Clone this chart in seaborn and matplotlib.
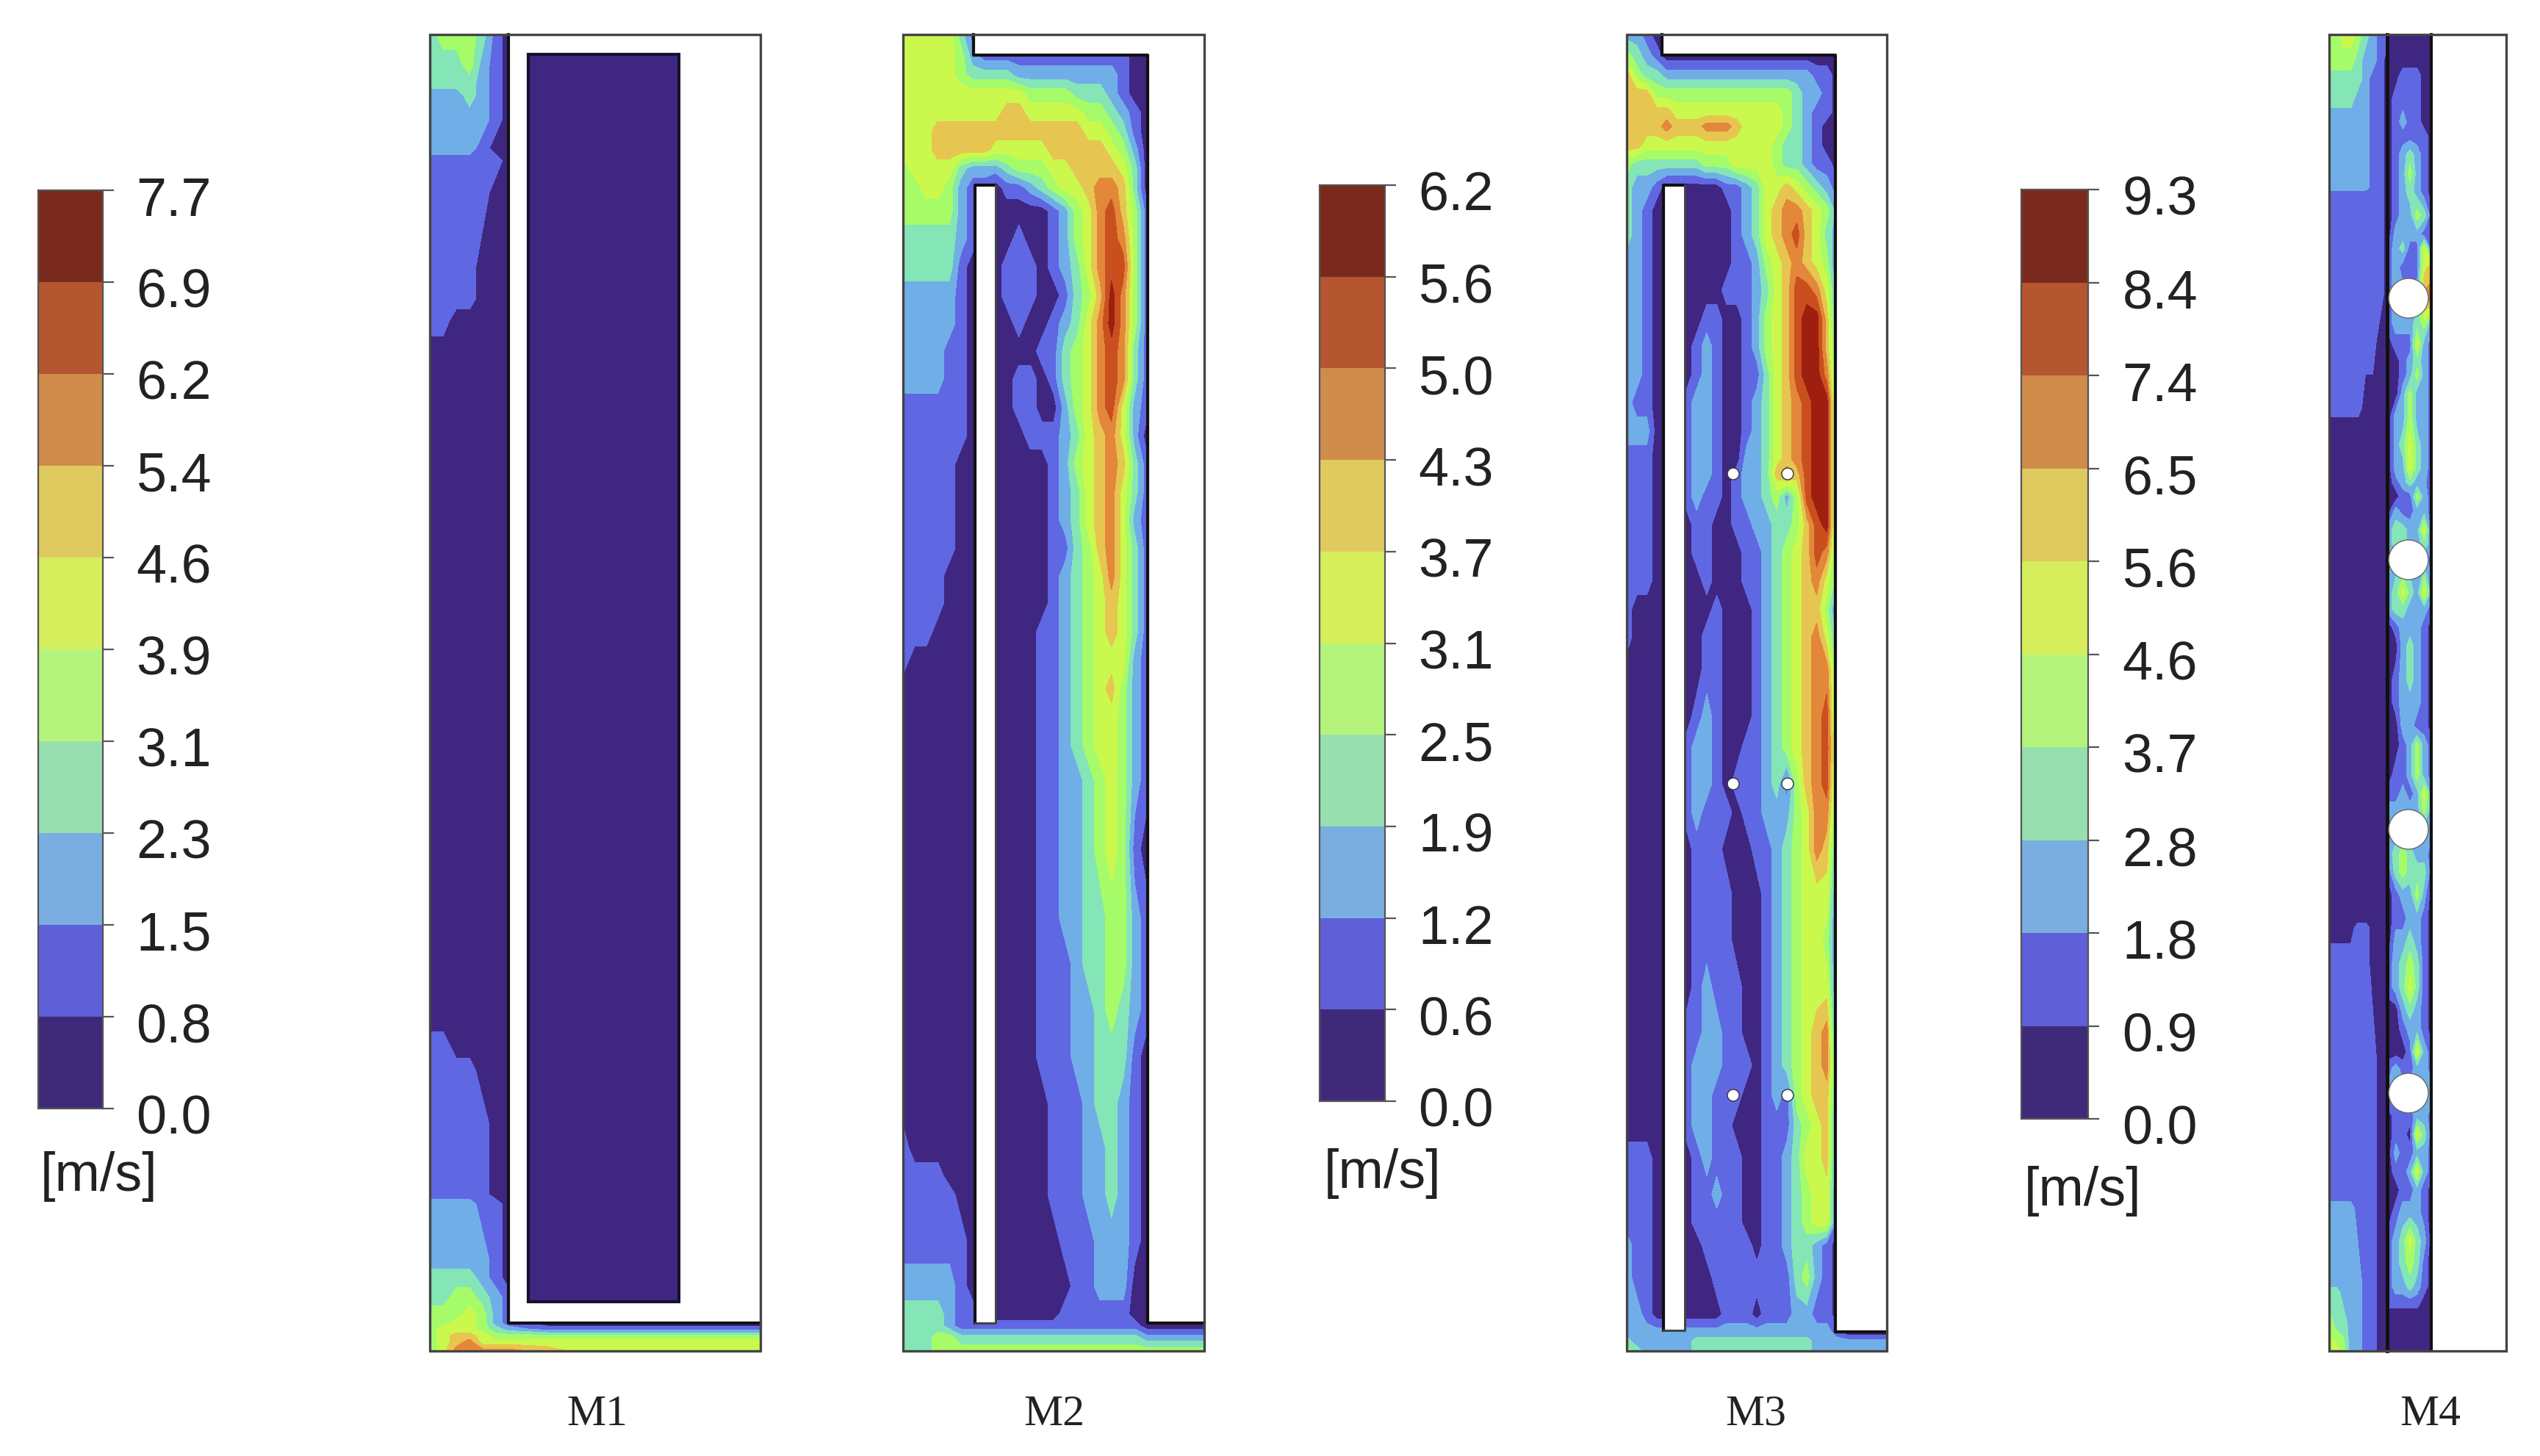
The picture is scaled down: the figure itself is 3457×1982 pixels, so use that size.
import numpy as np
import matplotlib
matplotlib.use("Agg")
import matplotlib.pyplot as plt
from matplotlib.colors import ListedColormap, BoundaryNorm
from matplotlib.patches import Rectangle, Circle
from matplotlib.transforms import ScaledTranslation
import seaborn as sns

# ---- colour bars ----
speeds_m1 = [7.7, 6.9, 6.2, 5.4, 4.6, 3.9, 3.1, 2.3, 1.5, 0.8, 0.0]
speeds_m2 = [6.2, 5.6, 5.0, 4.3, 3.7, 3.1, 2.5, 1.9, 1.2, 0.6, 0.0]
speeds_m4 = [9.3, 8.4, 7.4, 6.5, 5.6, 4.6, 3.7, 2.8, 1.8, 0.9, 0.0]
panel_names = ["M1", "M2", "M3", "M4"]

field_colors = ["#3f2680", "#6067e2", "#70aee8", "#84e5b6", "#a6fb68",
                "#cbf84d", "#e6c650", "#e3873a", "#c9501e", "#9e1f10"]
bar_colors = ["#3f2a7a", "#5f60d8", "#7aaee0", "#98dfb0", "#b4f47c",
              "#d6ee5c", "#dfca60", "#d08c4a", "#b4562f", "#7a2a1c"]

# ---- velocity fields: one digit per sample = colour band ----
m1_heights = [48, 90, 113, 130, 163, 203, 220, 263, 363, 407, 437, 480, 1387, 1423, 1460,
              1533, 1627, 1640, 1717, 1740, 1767, 1790, 1802, 1810, 1820, 1828, 1840]
m1_stations = [585, 603, 621, 639, 657, 675, 692, 745, 805, 865, 925, 985, 1035]
m1_bands = ["3444310", "3334210", "3333210", "2223210", "2222210", "2222100", "1111110",
            "1111100", "1111000", "1111000", "1100000", "0000000", "0000000", "1100000",
            "1111000", "1111100", "1111100", "2222110", "2222210", "3333210", "3344321",
            "4445421", "4455421000000", "4555432111111", "4566544444444", "4567555555555",
            "4577777655555"]

m2_heights = [48, 77, 103, 128, 154, 179, 205, 230, 256, 288, 326, 364, 403, 441, 479, 517, 556,
              594, 632, 670, 709, 747, 785, 823, 862, 900, 938, 977, 1015, 1063, 1157, 1251,
              1313, 1376, 1439, 1502, 1564, 1602, 1627, 1690, 1752, 1790, 1806, 1822, 1840]
m2_bands = ["5555531", "555554211111111111110", "555554333322222222210", "555555555554444333210",
            "555555555665555544321", "555666666666666655431", "555666665555566666542",
            "4555532223444556666530", "4455421101123455677630", "4444421000000124578641",
            "3333321000100124578741", "3333310001110123578841", "2222210001110013469741",
            "2222210000100123579741", "2222110000001134578731", "2222110000110134578731",
            "1111110000110024578521", "1111110000011123567520", "1111100000000124567631",
            "1111100000000123567531", "1111100000000123567521", "1111100000000113467531",
            "1111000000000123457531", "1111000000000123456531", "1110000000001123456531",
            "1000000000001123455521", "0000000000001123456421", "0000000000001123455421",
            "0000000000001123455421", "0000000000001122345421", "0000000000001122345410",
            "0000000000001122334421", "0000000000001112334421", "0000000000001112234321",
            "0000000000001112233310", "0000000000000111233210", "1000000000000111223210",
            "1111000000000111223210", "1111100000000111223210", "1111110000000011122210",
            "2222210000000001122200", "3333211000000011111100", "333321111111111111111000000",
            "333443333333333333333222222", "333444444444444444444444444"]

m3_heights = [48, 77, 103, 128, 154, 173, 199, 224, 256, 288, 320, 358, 396, 435, 473, 511, 549,
              588, 626, 646, 677, 715, 753, 792, 830, 868, 913, 977, 1019, 1068, 1107, 1157, 1219,
              1282, 1345, 1407, 1451, 1492, 1533, 1577, 1627, 1665, 1696, 1740, 1790, 1815, 1827, 1840]
m3_bands = ["2210", "43210", "6433222222222222222110", "6664444444444444432210",
            "6666655555555555432110", "6666766677765555432100", "6655555555555554332100",
            "4333333344455554332110", "3221000000112355654321", "3210000000012356776542",
            "3210000000012356786532", "2210000000011245676541", "2210000000111235688752",
            "2210000011001245689962", "2210000121001245689963", "2210000121001135689973",
            "2110001221001235678993", "2220001221001235678993", "1110001221002235678993",
            "1110001221012236768993", "1110001211012234248993", "1110000110011223346893",
            "1110000110001123456873", "1110000010001123456753", "1000000001000123456641",
            "1000000011000123456752", "0000000011000123456773", "0000000121000123456783",
            "0000001221001123456784", "0000001221011123146783", "0000001211101122245773",
            "0000000111000112345762", "0000000111100012345551", "0000000111100012345541",
            "0000000121110012345551", "0000001122110012345671", "0000001222111012345672",
            "0000001221110012145662", "0000001221100011134561", "1110000121110011235561",
            "1110000112110011234551", "1110000111110011234551", "2110000011111011233210",
            "2110000001111111134210", "2210000000111011122110", "222222222222222222222100000",
            "322222233333333333322222222", "432222233333333333322222222"]

m4_outer_heights = [48, 84, 109, 135, 160, 256, 265, 403, 466, 556, 581, 1251, 1263, 1307, 1439,
                    1627, 1646, 1746, 1760, 1802, 1840]
m4_outer_bands = ["445543211", "444432210", "333332110", "333322110", "222222110", "222222110",
                  "111111110", "111111110", "111111100", "111110000", "000000000", "000000000",
                  "000011000", "111111000", "111111100", "111111100", "222211100", "222221100",
                  "332221100", "433221100", "554221100"]
m4_inner_heights = [48, 84, 103, 135, 167, 186, 211, 237, 262, 294, 320, 339, 364, 407, 441, 470, 492,
                    511, 537, 568, 607, 639, 658, 677, 696, 722, 741, 763, 808, 830, 855, 881, 926,
                    957, 989, 1015, 1056, 1082, 1103, 1131, 1163, 1188, 1219, 1251, 1282, 1313, 1345,
                    1376, 1401, 1433, 1455, 1489, 1520, 1545, 1570, 1596, 1621, 1652, 1690, 1721,
                    1752, 1774, 1790, 1840]
m4_inner_bands = ["0000000", "0000000", "0011100", "0111100", "0121100", "0111110", "0123210",
                  "0124210", "0123210", "0122431", "0222211", "1231151", "1211156", "1222277",
                  "1222342", "0111521", "0012321", "0012421", "0024221", "0224221", "0235321",
                  "0225321", "0123220", "0011421", "0211221", "2332251", "2332232", "2222221",
                  "2353252", "2332221", "0122210", "0023210", "0123210", "0122210", "0022110",
                  "0012421", "0112421", "1121252", "2222242", "2222222", "2343221", "1343331",
                  "0122420", "0112210", "0223210", "1234310", "1235310", "0023210", "0012210",
                  "0001521", "1211221", "2222222", "0111221", "0110531", "0211221", "0112521",
                  "0011210", "0122210", "1235320", "1234310", "1223210", "1111100", "0000000",
                  "0000000"]

# pipes
m3_pipe_x = [2359, 2433]
m3_pipe_y = [646, 1068, 1492]
m4_pipe_x = [3278]
m4_pipe_y = [407, 763, 1130, 1489]


def band_grid(rows, ncols):
    # digit d sits in the middle of colour band d
    return np.array([[int(c) + 0.5 for c in r.ljust(ncols, "0")[:ncols]] for r in rows])


def draw_field(ax, stations, heights, rows):
    grid = band_grid(rows, len(stations))
    ax.contourf(stations, heights, grid, levels=np.arange(11), colors=field_colors, zorder=1)


def white(ax, x0, y0, x1, y1):
    ax.add_patch(Rectangle((x0, y0), x1 - x0, y1 - y0, fc="white", ec="none", zorder=2))


def wall(ax, xs, ys, color="#111111", lw=3.0):
    ax.plot(xs, ys, color=color, lw=lw, solid_capstyle="projecting", zorder=3)


def frame(ax, x0, x1):
    ax.add_patch(Rectangle((x0, 48), x1 - x0, 1792, fc="none", ec="#444444", lw=2.4, zorder=4))


def color_bar(fig, speeds, left, right, top, bottom, label_x, unit_x, unit_y):
    W, H = 3457.0, 1983.0
    cax = fig.add_axes([left / W, 1 - bottom / H, (right - left) / W, (bottom - top) / H])
    s = np.array(speeds)
    mids = ((s[:-1] + s[1:]) / 2).reshape(-1, 1)
    sns.heatmap(mids, ax=cax, cmap=ListedColormap(bar_colors), norm=BoundaryNorm(s[::-1], 10),
                cbar=False, xticklabels=False, yticklabels=False)
    cax.set_xlabel("")
    cax.set_yticks(np.arange(len(s)))
    cax.set_yticklabels(["%.1f" % v for v in speeds])
    cax.yaxis.tick_right()
    cax.tick_params(axis="y", length=11, width=1.6, color="#555555", pad=(label_x - right - 15) * 0.72,
                    labelsize=53, labelcolor="#222222", labelrotation=0)
    off = ScaledTranslation(0, -7 / 100.0, fig.dpi_scale_trans)
    for lab in cax.get_yticklabels():
        lab.set_transform(lab.get_transform() + off)
    for sp in cax.spines.values():
        sp.set_visible(True)
        sp.set_color("#555555")
        sp.set_linewidth(1.6)
    fig.text(unit_x / W, 1 - unit_y / H, "[m/s]", fontsize=53, color="#222222", ha="left", va="center")


sns.set_theme(style="white")
plt.rcParams["font.family"] = ["Liberation Sans", "DejaVu Sans"]

fig = plt.figure(figsize=(34.57, 19.83), dpi=100, facecolor="white")
ax = fig.add_axes([0, 0, 1, 1])
ax.set_xlim(0, 3457)
ax.set_ylim(1983, 0)
ax.axis("off")

# M1
draw_field(ax, m1_stations, m1_heights, m1_bands)
white(ax, 692, 48, 1035, 1802)
ax.add_patch(Rectangle((719, 75), 205, 1698, fc=field_colors[0], ec="#15102e", lw=3, zorder=3))
wall(ax, [692, 692, 1035], [48, 1802, 1802])
frame(ax, 585, 1035)

# M2
draw_field(ax, np.linspace(1229, 1639, 27), m2_heights, m2_bands)
white(ax, 1325, 48, 1639, 76)
white(ax, 1562, 48, 1639, 1802)
white(ax, 1327, 253, 1355, 1802)
wall(ax, [1325, 1325, 1562, 1562, 1639], [48, 76, 76, 1802, 1802])
wall(ax, [1327, 1327, 1355], [1802, 253, 253])
wall(ax, [1327, 1355, 1355], [1802, 1802, 253], color="#444444", lw=2.2)
frame(ax, 1229, 1639)

# M3
draw_field(ax, np.linspace(2214, 2568, 27), m3_heights, m3_bands)
white(ax, 2262, 48, 2568, 76)
white(ax, 2498, 48, 2568, 1814)
white(ax, 2265, 253, 2293, 1812)
wall(ax, [2262, 2262, 2498, 2498, 2568], [48, 76, 76, 1814, 1814])
wall(ax, [2264, 2264, 2293], [1812, 253, 253])
wall(ax, [2264, 2293, 2293], [1812, 1812, 253], color="#444444", lw=2.2)
frame(ax, 2214, 2568)
for px in m3_pipe_x:
    for py in m3_pipe_y:
        ax.add_patch(Circle((px, py), 8, fc="white", ec="#333333", lw=1.0, zorder=4))

# M4
draw_field(ax, np.linspace(3170, 3249, 9), m4_outer_heights, m4_outer_bands)
draw_field(ax, np.linspace(3251, 3309, 7), m4_inner_heights, m4_inner_bands)
white(ax, 3310, 48, 3411, 1840)
wall(ax, [3249, 3249], [48, 1840], lw=3.6)
wall(ax, [3309, 3309], [48, 1840])
frame(ax, 3170, 3411)
for py in m4_pipe_y:
    ax.add_patch(Circle((m4_pipe_x[0], py), 27, fc="white", ec="#666666", lw=1.0, zorder=4))

# panel names
for name, cx in zip(panel_names, [813, 1435, 2390, 3308]):
    ax.text(cx, 1926, name, fontsize=43, family="Liberation Serif", color="#222222", ha="center", va="center")

color_bar(fig, speeds_m1, 52, 140, 260, 1510, 185, 55, 1602)
color_bar(fig, speeds_m2, 1796, 1885, 253, 1500, 1930, 1802, 1598)
color_bar(fig, speeds_m4, 2751, 2842, 259, 1524, 2888, 2755, 1622)

fig.savefig("out.png", dpi=100)
